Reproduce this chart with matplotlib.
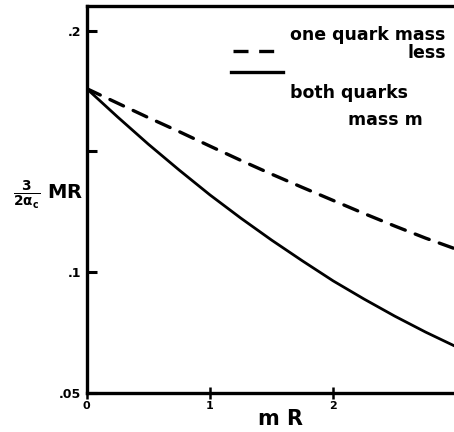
import matplotlib
matplotlib.use("Agg")
import matplotlib.pyplot as plt
import numpy as np

mR = [0.0, 0.25, 0.5, 0.75, 1.0, 1.25, 1.5, 1.75, 2.0, 2.25, 2.5, 2.75, 3.0]
one_massless = [0.176, 0.170, 0.164, 0.1582, 0.1522, 0.1463, 0.1406, 0.1351,
                0.1297, 0.1243, 0.1191, 0.1141, 0.1095]
both_mass_m = [0.176, 0.1643, 0.1530, 0.1423, 0.1320, 0.1224, 0.1133, 0.1047,
               0.0964, 0.0889, 0.0818, 0.0752, 0.0691]

yticks = [0.05, 0.1, 0.15, 0.2]
yticklabels = [".05", ".1", "", ".2"]
xticks = [0, 1, 2]
xticklabels = ["0", "1", "2"]

plt.rcParams['font.family'] = ['DejaVu Sans']
fig = plt.figure(figsize=(4.54, 4.32), dpi=100)
ax = fig.add_axes([86.7/454, 39/432, 1 - 86.7/454, 387/432])

ax.plot(mR, one_massless, color='black', lw=2.4, ls=(0, (4.5, 3.2)),
        dash_capstyle='round')
ax.plot(mR, both_mass_m, color='black', lw=2.0)

ax.set_xlim(0, 2.98)
ax.set_ylim(0.0503, 0.2102)

for s in ['left', 'bottom', 'top']:
    ax.spines[s].set_linewidth(2.4)
ax.spines['right'].set_visible(False)

ax.set_yticks(yticks)
ax.set_yticklabels(yticklabels, fontweight='bold', fontsize=9)
ax.set_xticks(xticks)
ax.set_xticklabels(xticklabels, fontweight='bold', fontsize=8)
ax.tick_params(axis='y', direction='in', length=7, width=2.2, pad=4)
ax.tick_params(axis='x', direction='inout', length=9, width=1.8, pad=1)

# axis labels
fig.text(281/454, 1 - 419/432, "m R", fontsize=15, fontweight='bold', ha='center', va='center')
fig.text(48/454, 1 - 195/432, r"$\mathbf{\frac{3}{2\alpha_c}}$ MR", fontsize=14, fontweight='bold',
         ha='center', va='center')

# legend drawn manually
ax.plot([1.19, 1.57], [0.1914, 0.1914], color='black', lw=2.4, ls=(0, (4.5, 3.2)), clip_on=False)
ax.plot([1.17, 1.59], [0.1827, 0.1827], color='black', lw=2.4, clip_on=False)
fig.text(290/454, 1 - 35/432, "one quark mass", fontsize=12.5, fontweight='bold', ha='left', va='center')
fig.text(446/454, 1 - 53/432, "less", fontsize=12.5, fontweight='bold', ha='right', va='center')
fig.text(290/454, 1 - 93/432, "both quarks", fontsize=12.5, fontweight='bold', ha='left', va='center')
fig.text(348/454, 1 - 120/432, "mass m", fontsize=12.5, fontweight='bold', ha='left', va='center')

fig.savefig("out.png", dpi=100)
